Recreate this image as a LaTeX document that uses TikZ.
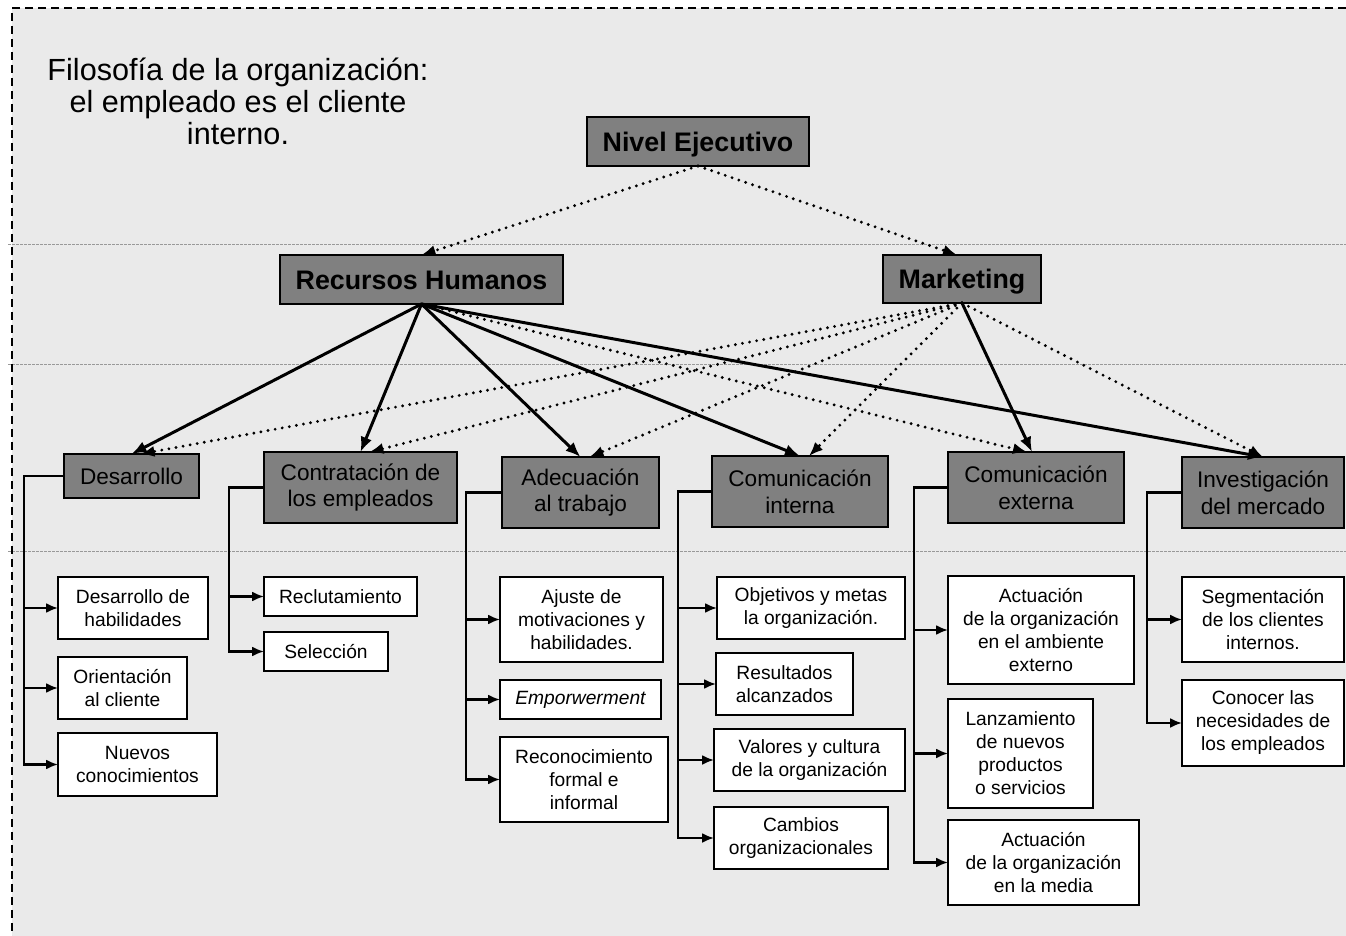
\documentclass[tikz,border=0pt]{standalone}
\usepackage{fontspec}
\setmainfont{Liberation Sans}
\usetikzlibrary{arrows.meta}
\definecolor{fondo}{RGB}{234,234,234}
\definecolor{caja}{RGB}{128,128,128}

\begin{document}
\begin{tikzpicture}[x=0.5pt,y=-0.5pt,
		tam/.style 2 args={minimum width=#1,minimum height=#2},
		nivel/.style={draw,fill=caja,line width=1pt,inner sep=1pt,outer sep=0pt,text height=9.7pt,text depth=0pt,font=\fontsize{13.4}{16}\selectfont\bfseries},
		area/.style={draw,fill=caja,line width=1pt,inner sep=1pt,outer sep=0pt,align=center,font=\fontsize{11.3}{13.4}\selectfont},
		item/.style={draw,fill=white,line width=1pt,inner sep=1pt,outer sep=0pt,align=center,font=\fontsize{9.6}{11.5}\selectfont},
		fuerte/.style={line width=1.5pt,-{Latex[length=7.5pt,width=6pt]}},
		debil/.style={line width=1.6pt,line cap=round,dash pattern=on 0pt off 3.6pt,-{Latex[length=7pt,width=5.6pt]}},
		rama/.style={line width=1.1pt,-{Latex[length=6pt,width=5pt]}},
		guia/.style={gray!80,line width=0.5pt,dash pattern=on 1.5pt off 0.5pt}]
		\useasboundingbox (0,0) rectangle (1346,936);
		%background and frame
		\fill[fondo] (12,8) rectangle (1346,936);
		\foreach \y in {245,365,552}{
			\draw[guia] (8,\y) -- (1346,\y);
		}
		\draw[line width=1pt,dash pattern=on 4pt off 2.5pt] (1346,8) -- (12,8) -- (12,936);
		\node[font=\fontsize{15.3}{16}\selectfont,align=center] (lema) at (238,101) {Filosofía de la organización:\\el empleado es el cliente\\interno.};
		%put the top levels
		\node[nivel,tam={111pt}{24.5pt}] (nivel) at (698,141.5) {Nivel Ejecutivo};
		\node[nivel,tam={141.5pt}{24.5pt}] (rrhh) at (421.5,279.5) {Recursos Humanos};
		\node[nivel,tam={79pt}{24pt}] (mkt) at (962,279) {Marketing};
		%put the areas in a row
		\node[area,tam={67.5pt}{22pt}] (des) at (131.5,476) {Desarrollo};
		\node[area,tam={96.5pt}{35.5pt}] (con) at (360.5,487.5) {Contratación de\\los empleados};
		\node[area,tam={78.5pt}{35.5pt}] (ade) at (580.5,492.5) {Adecuación\\al trabajo};
		\node[area,tam={88pt}{35.5pt}] (cin) at (800,491.5) {Comunicación\\interna};
		\node[area,tam={88pt}{35.5pt}] (cex) at (1036,487.5) {Comunicación\\externa};
		\node[area,tam={81pt}{35.5pt}] (inv) at (1263,492.5) {Investigación\\del mercado};
		%put the tasks under each area
		\node[item,tam={75pt}{31pt}] (d1) at (133,608) {Desarrollo de\\habilidades};
		\node[item,tam={64.5pt}{31pt}] (d2) at (122.5,688) {Orientación\\al cliente};
		\node[item,tam={79.5pt}{31.5pt}] (d3) at (137.5,764.5) {Nuevos\\conocimientos};
		\node[item,tam={76.5pt}{19.5pt}] (c1) at (340.5,596.5) {Reclutamiento};
		\node[item,tam={62pt}{19.5pt}] (c2) at (326,651.5) {Selección};
		\node[item,tam={81.5pt}{42.5pt}] (a1) at (581.5,619.5) {Ajuste de\\motivaciones y\\habilidades.};
		\node[item,tam={80.5pt}{19.5pt}] (a2) at (580.5,699.5) {\itshape Emporwerment};
		\node[item,tam={84pt}{42.5pt}] (a3) at (584,779.5) {Reconocimiento\\formal e\\informal};
		\node[item,tam={94pt}{31pt}] (i1) at (811,608) {Objetivos y metas\\la organización.};
		\node[item,tam={68.5pt}{31pt}] (i2) at (784.5,684) {Resultados\\alcanzados};
		\node[item,tam={95.5pt}{31pt}] (i3) at (809.5,760) {Valores y cultura\\de la organización};
		\node[item,tam={87pt}{31pt}] (i4) at (801,838) {Cambios\\organizacionales};
		\node[item,tam={93pt}{54pt}] (e1) at (1041,630) {Actuación\\de la organización\\en el ambiente\\externo};
		\node[item,tam={72.5pt}{54.5pt}] (e2) at (1020.5,753.5) {Lanzamiento\\de nuevos\\productos\\o servicios};
		\node[item,tam={95.5pt}{42.5pt}] (e3) at (1043.5,862.5) {Actuación\\de la organización\\en la media};
		\node[item,tam={81pt}{42.5pt}] (m1) at (1263,619.5) {Segmentación\\de los clientes\\internos.};
		\node[item,tam={81pt}{43pt}] (m2) at (1263,723) {Conocer las\\necesidades de\\los empleados};
		%arrows between levels
		\draw[debil] (nivel.south) -- (rrhh.north);
		\draw[debil] (nivel.south) -- ([xshift=-2.5pt]mkt.north);
		\foreach \t in {des,con,ade,cin,inv}{
			\draw[fuerte] (rrhh.south) -- (\t.north);
		}
		\draw[debil] (rrhh.south) -- ([xshift=-4.5pt]cex.north);
		\foreach \t in {des,con,ade,cin}{
			\draw[debil] (mkt.south) -- ([xshift=4.5pt]\t.north);
		}
		\draw[fuerte] (mkt.south) -- ([xshift=-2pt]cex.north);
		\draw[debil] (mkt.south) -- (inv.north);
		%branches to the tasks
		\draw[rama] (des.west) -- ++(-40,0) coordinate (bdes) |- (d3.west);
		\foreach \k in {d1,d2}{
			\draw[rama] (bdes |- \k.west) -- (\k.west);
		}
		\draw[rama] (con.west) -- ++(-35,0) coordinate (bcon) |- (c2.west);
		\draw[rama] (bcon |- c1.west) -- (c1.west);
		\draw[rama] (ade.west) -- ++(-36,0) coordinate (bade) |- (a3.west);
		\foreach \k in {a1,a2}{
			\draw[rama] (bade |- \k.west) -- (\k.west);
		}
		\draw[rama] (cin.west) -- ++(-34,0) coordinate (bcin) |- (i4.west);
		\foreach \k in {i1,i2,i3}{
			\draw[rama] (bcin |- \k.west) -- (\k.west);
		}
		\draw[rama] (cex.west) -- ++(-34,0) coordinate (bcex) |- (e3.west);
		\foreach \k in {e1,e2}{
			\draw[rama] (bcex |- \k.west) -- (\k.west);
		}
		\draw[rama] (inv.west) -- ++(-35,0) coordinate (binv) |- (m2.west);
		\draw[rama] (binv |- m1.west) -- (m1.west);
\end{tikzpicture}
\end{document}
